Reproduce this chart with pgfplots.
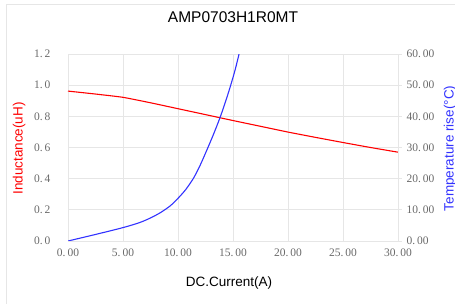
\documentclass[border=0pt]{standalone}
\usepackage{pgfplots}
\pgfplotsset{compat=1.18}
\usepackage{fontspec}
\setmainfont{Liberation Sans}
\newfontfamily\tickfont{Liberation Serif}
\definecolor{gridc}{RGB}{230,230,230}
\definecolor{tickc}{RGB}{105,105,105}
\definecolor{myblue}{RGB}{50,50,255}
\begin{document}
\begin{tikzpicture}
\path[use as bounding box] (-68bp,-63bp) rectangle (387bp,241bp);
\draw[gridc, line width=0.8bp] (-62bp,-63bp) -- (-62bp,237bp) -- (387bp,237bp);
\begin{axis}[
  scale only axis, width=330bp, height=187bp,
  at={(0,0)}, anchor=south west,
  xmin=0, xmax=30, ymin=0, ymax=1.2,
  axis y line*=left, axis x line*=bottom,
  xtick={0,5,...,30},
  xticklabels={{0.\,00},{5.\,00},{10.\,00},{15.\,00},{20.\,00},{25.\,00},{30.\,00}},
  ytick={0,0.2,...,1.2},
  yticklabels={{0.\,0},{0.\,2},{0.\,4},{0.\,6},{0.\,8},{1.\,0},{1.\,2}},
  ticklabel style={font=\tickfont\fontsize{11.5bp}{13bp}\selectfont, text=tickc},
  major tick length=0pt,
  grid=major, grid style={gridc, line width=0.8bp},
  axis line style={gridc, line width=0.8bp},
  xlabel={DC.Current(A)},
  xlabel style={at={(axis description cs:0.488,-0.225)}, anchor=center, font=\fontsize{13.5bp}{15bp}\selectfont},
  ylabel={Inductance(uH)},
  ylabel style={at={(axis description cs:-0.148,0.495)}, anchor=center, rotate=0, font=\fontsize{13.5bp}{15bp}\selectfont, text=red},
  title={AMP0703H1R0MT},
  title style={at={(axis description cs:0.5,1.166)}, anchor=center, font=\fontsize{15.5bp}{17bp}\selectfont},
  yticklabel style={xshift=-14bp},
  xticklabel style={yshift=-4bp},
]
\addplot[red, line width=1.1bp, smooth, tension=0.3] coordinates {
(0,0.962) (2.5,0.943) (5,0.922) (7.5,0.887) (10,0.849) (12.5,0.811) (15,0.773)
(17.5,0.736) (20,0.699) (22.5,0.665) (25,0.632) (27.5,0.600) (30,0.570)
};
\end{axis}
\begin{axis}[
  scale only axis, width=330bp, height=187bp,
  at={(0,0)}, anchor=south west,
  xmin=0, xmax=30, ymin=0, ymax=60,
  axis y line*=right, axis x line=none,
  ytick={0,10,...,60},
  yticklabels={{0.\,00},{10.\,00},{20.\,00},{30.\,00},{40.\,00},{50.\,00},{60.\,00}},
  yticklabel style={font=\tickfont\fontsize{11.5bp}{13bp}\selectfont, text=tickc, xshift=1bp},
  ytick style={gridc, line width=0.8bp},
  major tick length=4bp, tick align=outside,
  axis line style={gridc, line width=0.8bp},
  ylabel={Temperature rise(°C)},
  ylabel style={at={(axis description cs:1.158,0.495)}, anchor=center, rotate=0, font=\fontsize{13.5bp}{15bp}\selectfont, text=myblue},
]
\addplot[myblue, line width=1.1bp, smooth, tension=0.5] coordinates {
(0,0) (2.5,2.1) (5,4.3) (6.5,5.9) (7.5,7.4) (8.4,9.1) (9.3,11.3) (10,13.7)
(10.7,16.5) (11.4,20.1) (12,24.2) (12.6,29) (13.2,34) (13.8,39.4) (14.3,44.5)
(14.75,49.5) (15.2,55) (15.55,60)
};
\end{axis}
\end{tikzpicture}
\end{document}
